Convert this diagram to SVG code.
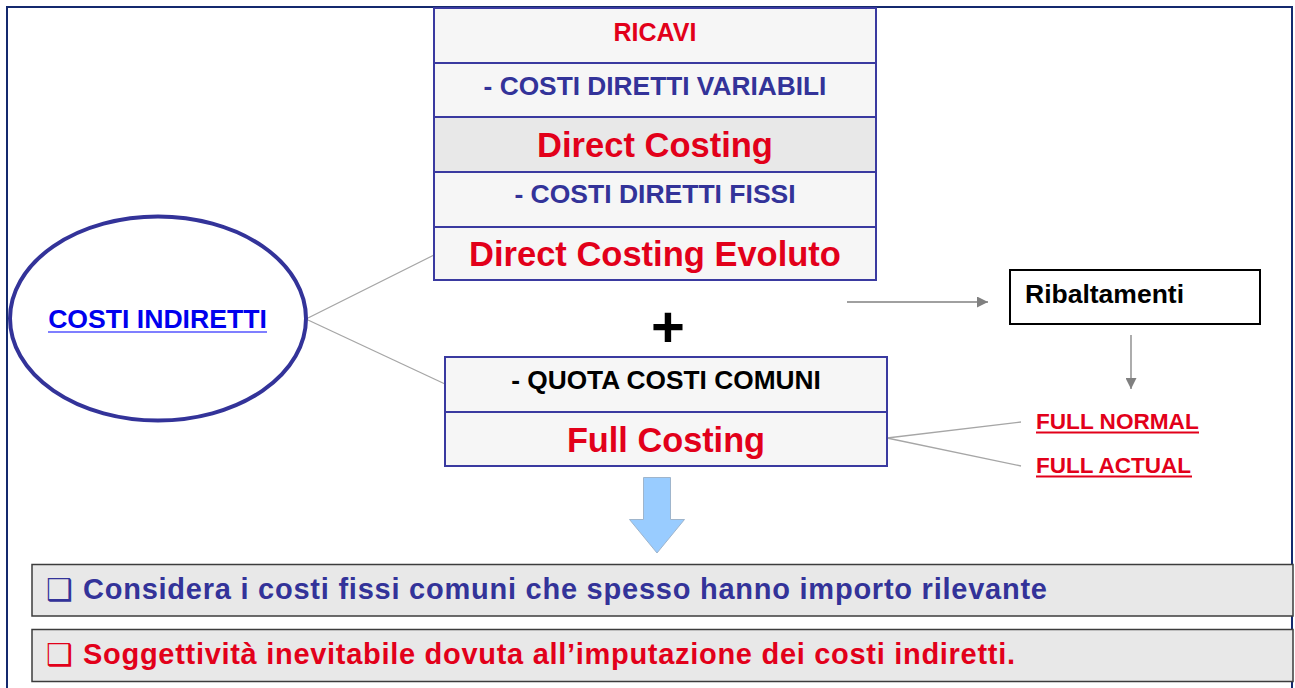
<svg xmlns="http://www.w3.org/2000/svg" width="1295" height="688" viewBox="0 0 1295 688">
<style>
  text { font-family: "Liberation Sans", Arial, sans-serif; font-weight: bold; }
  .cell { fill: #f6f6f6; stroke: #3a3aa0; stroke-width: 2; }
  .cellDark { fill: #e8e8e8; stroke: #3a3aa0; stroke-width: 2; }
  .red { fill: #e2001a; }
  .navy { fill: #333399; }
  .conn { stroke: #a6a6a6; stroke-width: 1.3; fill: none; }
  .arr { stroke: #808080; stroke-width: 1.3; fill: none; }
  .note { fill: #e8e8e8; stroke: #3c3c3c; stroke-width: 1.5; }
  .bul { font-family: "DejaVu Sans", sans-serif; font-weight: normal; }
</style>
<defs>
  <marker id="ah" markerWidth="11" markerHeight="11" refX="11" refY="5.5" orient="auto" markerUnits="userSpaceOnUse">
    <path d="M0,0 L11,5.5 L0,11 Z" fill="#808080"/>
  </marker>
</defs>
<rect x="0" y="0" width="1295" height="688" fill="#ffffff"/>
<rect id="frame" x="7" y="7" width="1285" height="700" fill="none" stroke="#14296e" stroke-width="2"/>

<g id="connectors">
  <line class="conn" x1="308" y1="318" x2="434" y2="255"/>
  <line class="conn" x1="308" y1="320" x2="445" y2="384"/>
  <line class="conn" x1="887" y1="438" x2="1021" y2="422"/>
  <line class="conn" x1="887" y1="438" x2="1021" y2="466"/>
  <line class="arr" x1="847" y1="302" x2="988" y2="302" marker-end="url(#ah)"/>
  <line class="arr" x1="1131" y1="335" x2="1131" y2="389" marker-end="url(#ah)"/>
</g>

<g id="direct-table">
  <rect class="cell" x="434" y="8" width="442" height="55"/>
  <rect class="cell" x="434" y="63" width="442" height="54"/>
  <rect class="cellDark" x="434" y="117" width="442" height="55"/>
  <rect class="cell" x="434" y="172" width="442" height="55"/>
  <rect class="cell" x="434" y="227" width="442" height="53"/>
  <text class="red" x="655" y="41" font-size="25" text-anchor="middle">RICAVI</text>
  <text class="navy" x="655" y="95" font-size="26.3" text-anchor="middle">- COSTI DIRETTI VARIABILI</text>
  <text class="red" x="655" y="157" font-size="34.5" text-anchor="middle">Direct Costing</text>
  <text class="navy" x="655" y="203" font-size="26.5" text-anchor="middle">- COSTI DIRETTI FISSI</text>
  <text class="red" x="655" y="266" font-size="34.5" text-anchor="middle">Direct Costing Evoluto</text>
</g>

<g id="costi-indiretti">
  <ellipse cx="158" cy="318.5" rx="148" ry="102" fill="#ffffff" stroke="#333399" stroke-width="4"/>
  <text x="157.5" y="328" font-size="26.6" text-anchor="middle" fill="#0000ee">COSTI INDIRETTI</text>
  <line x1="48" y1="332" x2="267" y2="332" stroke="#7f7fff" stroke-width="2"/>
</g>

<g id="plus">
  <text x="668" y="347" font-size="58" text-anchor="middle" fill="#000000">+</text>
</g>

<g id="full-table">
  <rect class="cell" x="445" y="357" width="442" height="55"/>
  <rect class="cell" x="445" y="412" width="442" height="54"/>
  <text x="666" y="389" font-size="26.3" text-anchor="middle" fill="#000000">- QUOTA COSTI COMUNI</text>
  <text class="red" x="666" y="452" font-size="34.3" text-anchor="middle">Full Costing</text>
</g>

<g id="ribaltamenti">
  <rect x="1010" y="270" width="250" height="54" fill="#ffffff" stroke="#000000" stroke-width="2"/>
  <text x="1025" y="303" font-size="26.5" fill="#000000">Ribaltamenti</text>
</g>

<g id="full-normal">
  <text class="red" x="1036" y="429" font-size="22.6">FULL NORMAL</text>
  <line x1="1036" y1="432.5" x2="1199" y2="432.5" stroke="#e2001a" stroke-width="1.8"/>
</g>
<g id="full-actual">
  <text class="red" x="1036" y="473" font-size="22.5">FULL ACTUAL</text>
  <line x1="1036" y1="476.5" x2="1192" y2="476.5" stroke="#e2001a" stroke-width="1.8"/>
</g>

<g id="down-arrow">
  <path d="M643.5,477.5 L670.5,477.5 L670.5,519.5 L684.5,519.5 L657,553 L629.5,519.5 L643.5,519.5 Z" fill="#99ccff" stroke="#9fb5cc" stroke-width="1"/>
</g>

<g id="note1">
  <rect class="note" x="32" y="564.5" width="1261" height="51.5"/>
  <text class="bul navy" x="46" y="600" font-size="30">❑</text>
  <text class="navy" x="83" y="599" font-size="29" textLength="964" lengthAdjust="spacing">Considera i costi fissi comuni che spesso hanno importo rilevante</text>
</g>

<g id="note2">
  <rect class="note" x="32" y="629.5" width="1261" height="52"/>
  <text class="bul red" x="46" y="665" font-size="30">❑</text>
  <text class="red" x="83" y="664" font-size="29" textLength="932" lengthAdjust="spacing">Soggettività inevitabile dovuta all’imputazione dei costi indiretti.</text>
</g>
</svg>
